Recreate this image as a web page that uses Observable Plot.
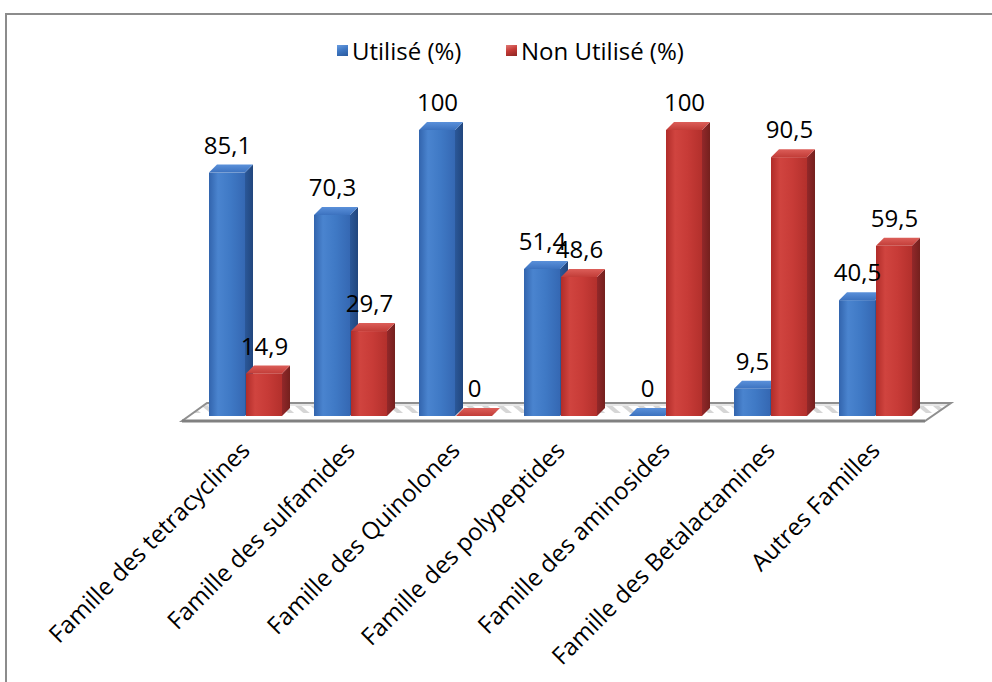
<!DOCTYPE html>
<html><head><meta charset="utf-8">
<script src="https://cdn.jsdelivr.net/npm/d3@7"></script>
<script src="https://cdn.jsdelivr.net/npm/@observablehq/plot@0.6"></script>
<style>
body{margin:0;background:#fff;font-family:"Open Sans",sans-serif;}
#wrap{position:relative;width:992px;height:682px;overflow:hidden;}
#frame{position:absolute;left:5px;top:13px;width:1100px;height:800px;border:2px solid #8c8c8c;box-sizing:border-box;pointer-events:none;}
#legend{position:relative;height:80px;font-size:24px;color:#000;}
.item{position:absolute;top:34px;display:flex;align-items:center;white-space:nowrap;}
.sw{width:11px;height:11px;margin-right:4px;}
#chart{position:relative;height:602px;}
</style></head>
<body>
<div id="wrap">
  <div id="frame"></div>
  <div id="legend"></div>
  <div id="chart"></div>
</div>
<script>
const categories = ["Famille des tetracyclines","Famille des sulfamides","Famille des Quinolones","Famille des polypeptides","Famille des aminosides","Famille des Betalactamines","Autres Familles"];
const seriesNames = ["Utilisé (%)","Non Utilisé (%)"];
const utilise = [85.1, 70.3, 100, 51.4, 0, 9.5, 40.5];
const nonUtilise = [14.9, 29.7, 0, 48.6, 100, 90.5, 59.5];

const fmt = v => String(v).replace(".", ",");
const dataU = categories.map((c,i)=>({cat:c, v:utilise[i], label:fmt(utilise[i])}));
const dataN = categories.map((c,i)=>({cat:c, v:nonUtilise[i], label:fmt(nonUtilise[i])}));

// legend
const legend = document.getElementById("legend");
const swBg = ["linear-gradient(160deg,#6a9de0 0%,#3f78c4 45%,#2a5a9e 100%)","linear-gradient(160deg,#e07a76 0%,#c63b37 45%,#8c2522 100%)"];
const legLeft = [337, 506];
seriesNames.forEach((s,i)=>{
  const d = document.createElement("div");
  d.className="item"; d.style.left = legLeft[i]+"px";
  d.innerHTML = `<div class="sw" style="background:${swBg[i]}"></div><span>${s}</span>`;
  legend.appendChild(d);
});

const plot = Plot.plot({
  width: 992, height: 602,
  marginLeft: 191, marginRight: 62.5, marginTop: 50, marginBottom: 266,
  x: {domain: categories, paddingInner: 0.308, paddingOuter: 0.154, label: null},
  y: {domain: [0, 100], axis: null},
  style: {fontFamily: "'Open Sans', sans-serif", fontSize: "24px", color: "#000", overflow: "visible", background: "transparent"},
  marks: [
    Plot.axisX({tickSize: 0, tickPadding: 30, tickRotate: -45, fontSize: 24, label: null}),
    Plot.barY(dataU, {x: "cat", y: "v", fill: "url(#gBlue)", insetRight: 37}),
    Plot.barY(dataN, {x: "cat", y: "v", fill: "url(#gRed)", insetLeft: 37}),
    Plot.text(dataU, {x: "cat", y: "v", text: "label", dx: -18.5, dy: -27, fontSize: 24, fill: "#000"}),
    Plot.text(dataN, {x: "cat", y: "v", text: "label", dx: 18.5, dy: -27, fontSize: 24, fill: "#000"})
  ]
});
document.getElementById("chart").appendChild(plot);

// 3D decoration derived from the rendered scales/bars
const svg = d3.select(plot);
const defs = svg.insert("defs", ":first-child");
function grad(id, stops, x2="100%", y2="0%") {
  const g = defs.append("linearGradient").attr("id", id).attr("x1","0%").attr("y1","0%").attr("x2",x2).attr("y2",y2);
  stops.forEach(([o,c])=>g.append("stop").attr("offset",o).attr("stop-color",c));
}
grad("gBlue", [["0%","#3264ad"],["25%","#4a84cf"],["60%","#3f79c5"],["100%","#3568b3"]]);
grad("gRed", [["0%","#b02c29"],["25%","#d0443f"],["60%","#c73b37"],["100%","#b3302c"]]);
grad("gBlueSide", [["0%","#2b5899"],["100%","#21467d"]]);
grad("gRedSide", [["0%","#92282a"],["100%","#74201d"]]);
grad("gBlueTop", [["0%","#5a90da"],["100%","#3c72bf"]], "0%", "100%");
grad("gRedTop", [["0%","#dc5e59"],["100%","#c23d38"]], "0%", "100%");
const pat = defs.append("pattern").attr("id","stripes").attr("patternUnits","userSpaceOnUse").attr("width",10).attr("height",10).attr("patternTransform","rotate(-50)");
pat.append("rect").attr("width",10).attr("height",10).attr("fill","#ffffff");
pat.append("rect").attr("width",4).attr("height",10).attr("fill","#d6d6d6");

const xs = plot.scale("x"), ys = plot.scale("y");
const y0 = ys.apply(0);
const [xr0, xr1] = xs.range;
const floor = svg.insert("g", "defs + *");
const fl = [[xr0-9, y0+5],[xr1-4.5, y0+5],[xr1+21.5, y0-13],[xr0+16, y0-13]];
floor.append("polygon").attr("points", [[xr0+16, y0-13],[xr1+21.5, y0-13],[xr1+18,y0-10],[xr0+12,y0-10]].map(p=>p.join(",")).join(" ")).attr("fill","#e6e6e6");
floor.append("polygon").attr("points", [[xr0+12,y0-10],[xr1+18,y0-10],[xr1+8,y0-3],[xr0+2,y0-3]].map(p=>p.join(",")).join(" ")).attr("fill","url(#stripes)");
floor.append("polygon").attr("points", fl.map(p=>p.join(",")).join(" ")).attr("fill","none").attr("stroke","#8f8f8f").attr("stroke-width",2);
floor.append("line").attr("x1",fl[0][0]).attr("y1",fl[0][1]).attr("x2",fl[1][0]).attr("y2",fl[1][1]).attr("stroke","#808080").attr("stroke-width",3);

const depthX = 8, depthY = 8;
const groups = svg.selectAll('g[aria-label="bar"]').nodes();
groups.forEach((g, si) => {
  const side = si === 0 ? "url(#gBlueSide)" : "url(#gRedSide)";
  const top = si === 0 ? "url(#gBlueTop)" : "url(#gRedTop)";
  d3.select(g).selectAll("rect").each(function() {
    const r = d3.select(this);
    const x = +r.attr("x"), y = +r.attr("y"), w = +r.attr("width"), h = +(r.attr("height") || 0);
    const sel = d3.select(g);
    sel.append("polygon").attr("points", [[x+w,y],[x+w+depthX,y-depthY],[x+w+depthX,y+h-depthY],[x+w,y+h]].map(p=>p.join(",")).join(" ")).attr("fill", side);
    sel.append("polygon").attr("points", [[x,y],[x+depthX,y-depthY],[x+w+depthX,y-depthY],[x+w,y]].map(p=>p.join(",")).join(" ")).attr("fill", top);
  });
});
</script>
</body></html>
